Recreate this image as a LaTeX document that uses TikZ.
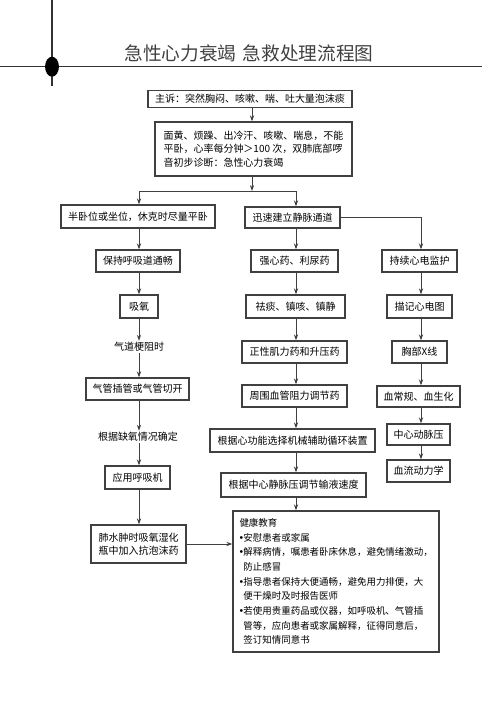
\documentclass[tikz,border=0pt]{standalone}
\usepackage{fontspec}
\setmainfont{Noto Sans CJK SC}
\newfontfamily\djv{DejaVu Sans}
\newcommand\bul{\makebox[0.42em][l]{\kern-0.1em{\djv •}}}
\newcommand\ind{\hspace*{0.42em}}
\usetikzlibrary{arrows.meta}
\begin{document}
\begin{tikzpicture}[x=0.75pt,y=-0.75pt,
  box/.style={draw=black!75, line width=0.95pt, inner sep=0pt, align=center,
    font=\fontsize{7.5}{10}\selectfont, text=black},
  bx/.style n args={2}{box, minimum width=#1*0.75pt, minimum height=#2*0.75pt},
  lbl/.style={inner sep=1pt, font=\fontsize{7.5}{10}\selectfont, text=black},
  arr/.style={draw=black!75, line width=0.7pt, -{Stealth[length=4.5pt,width=3.2pt]}},
  ln/.style={draw=black!75, line width=0.7pt}]
\useasboundingbox (0,0) rectangle (500,708);

% header decoration
\draw[black!80, line width=1.1pt] (0,66.7) -- (482,66.7);
\draw[black!80, line width=1.1pt] (52,0) -- (52,86);
\fill[black] (52,66.7) ellipse [x radius=5.2pt, y radius=7.5pt];
\node[font=\fontsize{14}{16}\selectfont, text=black!75] (title) at (249,53)
  {急性心力衰竭\hspace{0.35em}急救处理流程图};

% column coordinates
\coordinate (cT) at (252,0);
\coordinate (cL) at (139,0);
\coordinate (cM) at (296,0);
\coordinate (cR) at (421,0);

% top boxes
\node[bx={204}{17}] (B1) at (250,99) {主诉：突然胸闷、咳嗽、喘、吐大量泡沫痰};
\node[bx={197}{54}, align=left, font=\fontsize{7.5}{10.1}\selectfont] (B2) at (253.5,149)
  {面黄、烦躁、出冷汗、咳嗽、喘息，不能\\平卧，心率每分钟＞100 次，双肺底部啰\\音初步诊断：急性心力衰竭};
\coordinate (sp) at (252,191);

% left column
\node[bx={154}{23}] (L1) at (138,216.5) {半卧位或坐位，休克时尽量平卧};
\node[bx={84}{22}] (L2) at (138,261) {保持呼吸道通畅};
\node[bx={38}{23}] (L3) at (139,306.5) {吸氧};
\node[lbl] (T1) at (139,347) {气道梗阻时};
\node[bx={103}{22}] (L4) at (137.5,389) {气管插管或气管切开};
\node[lbl] (T2) at (138,437) {根据缺氧情况确定};
\node[bx={65}{23}] (L5) at (137.5,477.5) {应用呼吸机};
\node[bx={95}{38}, font=\fontsize{7.5}{9.5}\selectfont] (L6) at (138.5,544)
  {肺水肿时吸氧湿化\\瓶中加入抗泡沫药};

% middle column
\node[bx={95}{21}] (M1) at (292.5,217.5) {迅速建立静脉通道};
\node[bx={87}{22}] (M2) at (294.5,261) {强心药、利尿药};
\node[bx={99}{23}] (M3) at (295.5,306.5) {祛痰、镇咳、镇静};
\node[bx={105}{22}] (M4) at (294.5,352) {正性肌力药和升压药};
\node[bx={105}{22}] (M5) at (294.5,396) {周围血管阻力调节药};
\node[bx={165}{23}] (M6) at (292.5,440.5) {根据心功能选择机械辅助循环装置};
\node[bx={145}{24}] (M7) at (293.5,485) {根据中心静脉压调节输液速度};

% right column
\node[bx={75}{22}] (R1) at (419.5,261) {持续心电监护};
\node[bx={65}{23}] (R2) at (419.5,306.5) {描记心电图};
\node[bx={55}{22}] (R3) at (419.5,352) {胸部X线};
\node[bx={83}{21}] (R4) at (418.5,396.5) {血常规、血生化};
\node[bx={63}{21}] (R5) at (418.5,434.5) {中心动脉压};
\node[bx={63}{22}] (R6) at (418.5,471) {血流动力学};

% health education box
\node[box, align=left, text width=193*0.75pt, inner xsep=6.5*0.75pt,
      minimum height=141*0.75pt, font=\fontsize{7.1}{11}\selectfont] (E) at (336,581.5)
  {健康教育\\
   \bul 安慰患者或家属\\
   \bul 解释病情，嘱患者卧床休息，避免情绪激动，\\
   \ind 防止感冒\\
   \bul 指导患者保持大便通畅，避免用力排便，大\\
   \ind 便干燥时及时报告医师\\
   \bul 若使用贵重药品或仪器，如呼吸机、气管插\\
   \ind 管等，应向患者或家属解释，征得同意后，\\
   \ind 签订知情同意书};

% connectors
\draw[arr] (B1.south -| cT) -- (B2.north -| cT);
\draw[arr] (B2.south -| cT) -- (sp);
\draw[ln] (sp -| cL) -- (sp -| cM);
\draw[arr] (sp -| cL) -- (L1.north -| cL);
\draw[arr] (sp -| cM) -- (M1.north -| cM);
\draw[arr] (M1.east) -| (R1.north -| cR);

\draw[arr] (L1.south -| cL) -- (L2.north -| cL);
\draw[arr] (L2.south -| cL) -- (L3.north -| cL);
\draw[arr] (L3.south -| cL) -- (T1.north -| cL);
\draw[arr] (T1.south -| cL) -- (L4.north -| cL);
\draw[arr] (L4.south -| cL) -- (T2.north -| cL);
\draw[arr] (T2.south -| cL) -- (L5.north -| cL);
\draw[arr] (L5.south -| cL) -- (L6.north -| cL);
\draw[arr] (L6.east) -- (L6.east -| E.west);

\draw[arr] (M1.south -| cM) -- (M2.north -| cM);
\draw[arr] (M2.south -| cM) -- (M3.north -| cM);
\draw[arr] (M3.south -| cM) -- (M4.north -| cM);
\draw[arr] (M4.south -| cM) -- (M5.north -| cM);
\draw[arr] (M5.south -| cM) -- (M6.north -| cM);
\draw[arr] (M6.south -| cM) -- (M7.north -| cM);
\draw[arr] (M7.south -| cM) -- (E.north -| cM);

\draw[arr] (R1.south -| cR) -- (R2.north -| cR);
\draw[arr] (R2.south -| cR) -- (R3.north -| cR);
\draw[arr] (R3.south -| cR) -- (R4.north -| cR);
\draw[arr] (R4.south -| cR) -- (R5.north -| cR);
\draw[arr] (R5.south -| cR) -- (R6.north -| cR);
\end{tikzpicture}
\end{document}
